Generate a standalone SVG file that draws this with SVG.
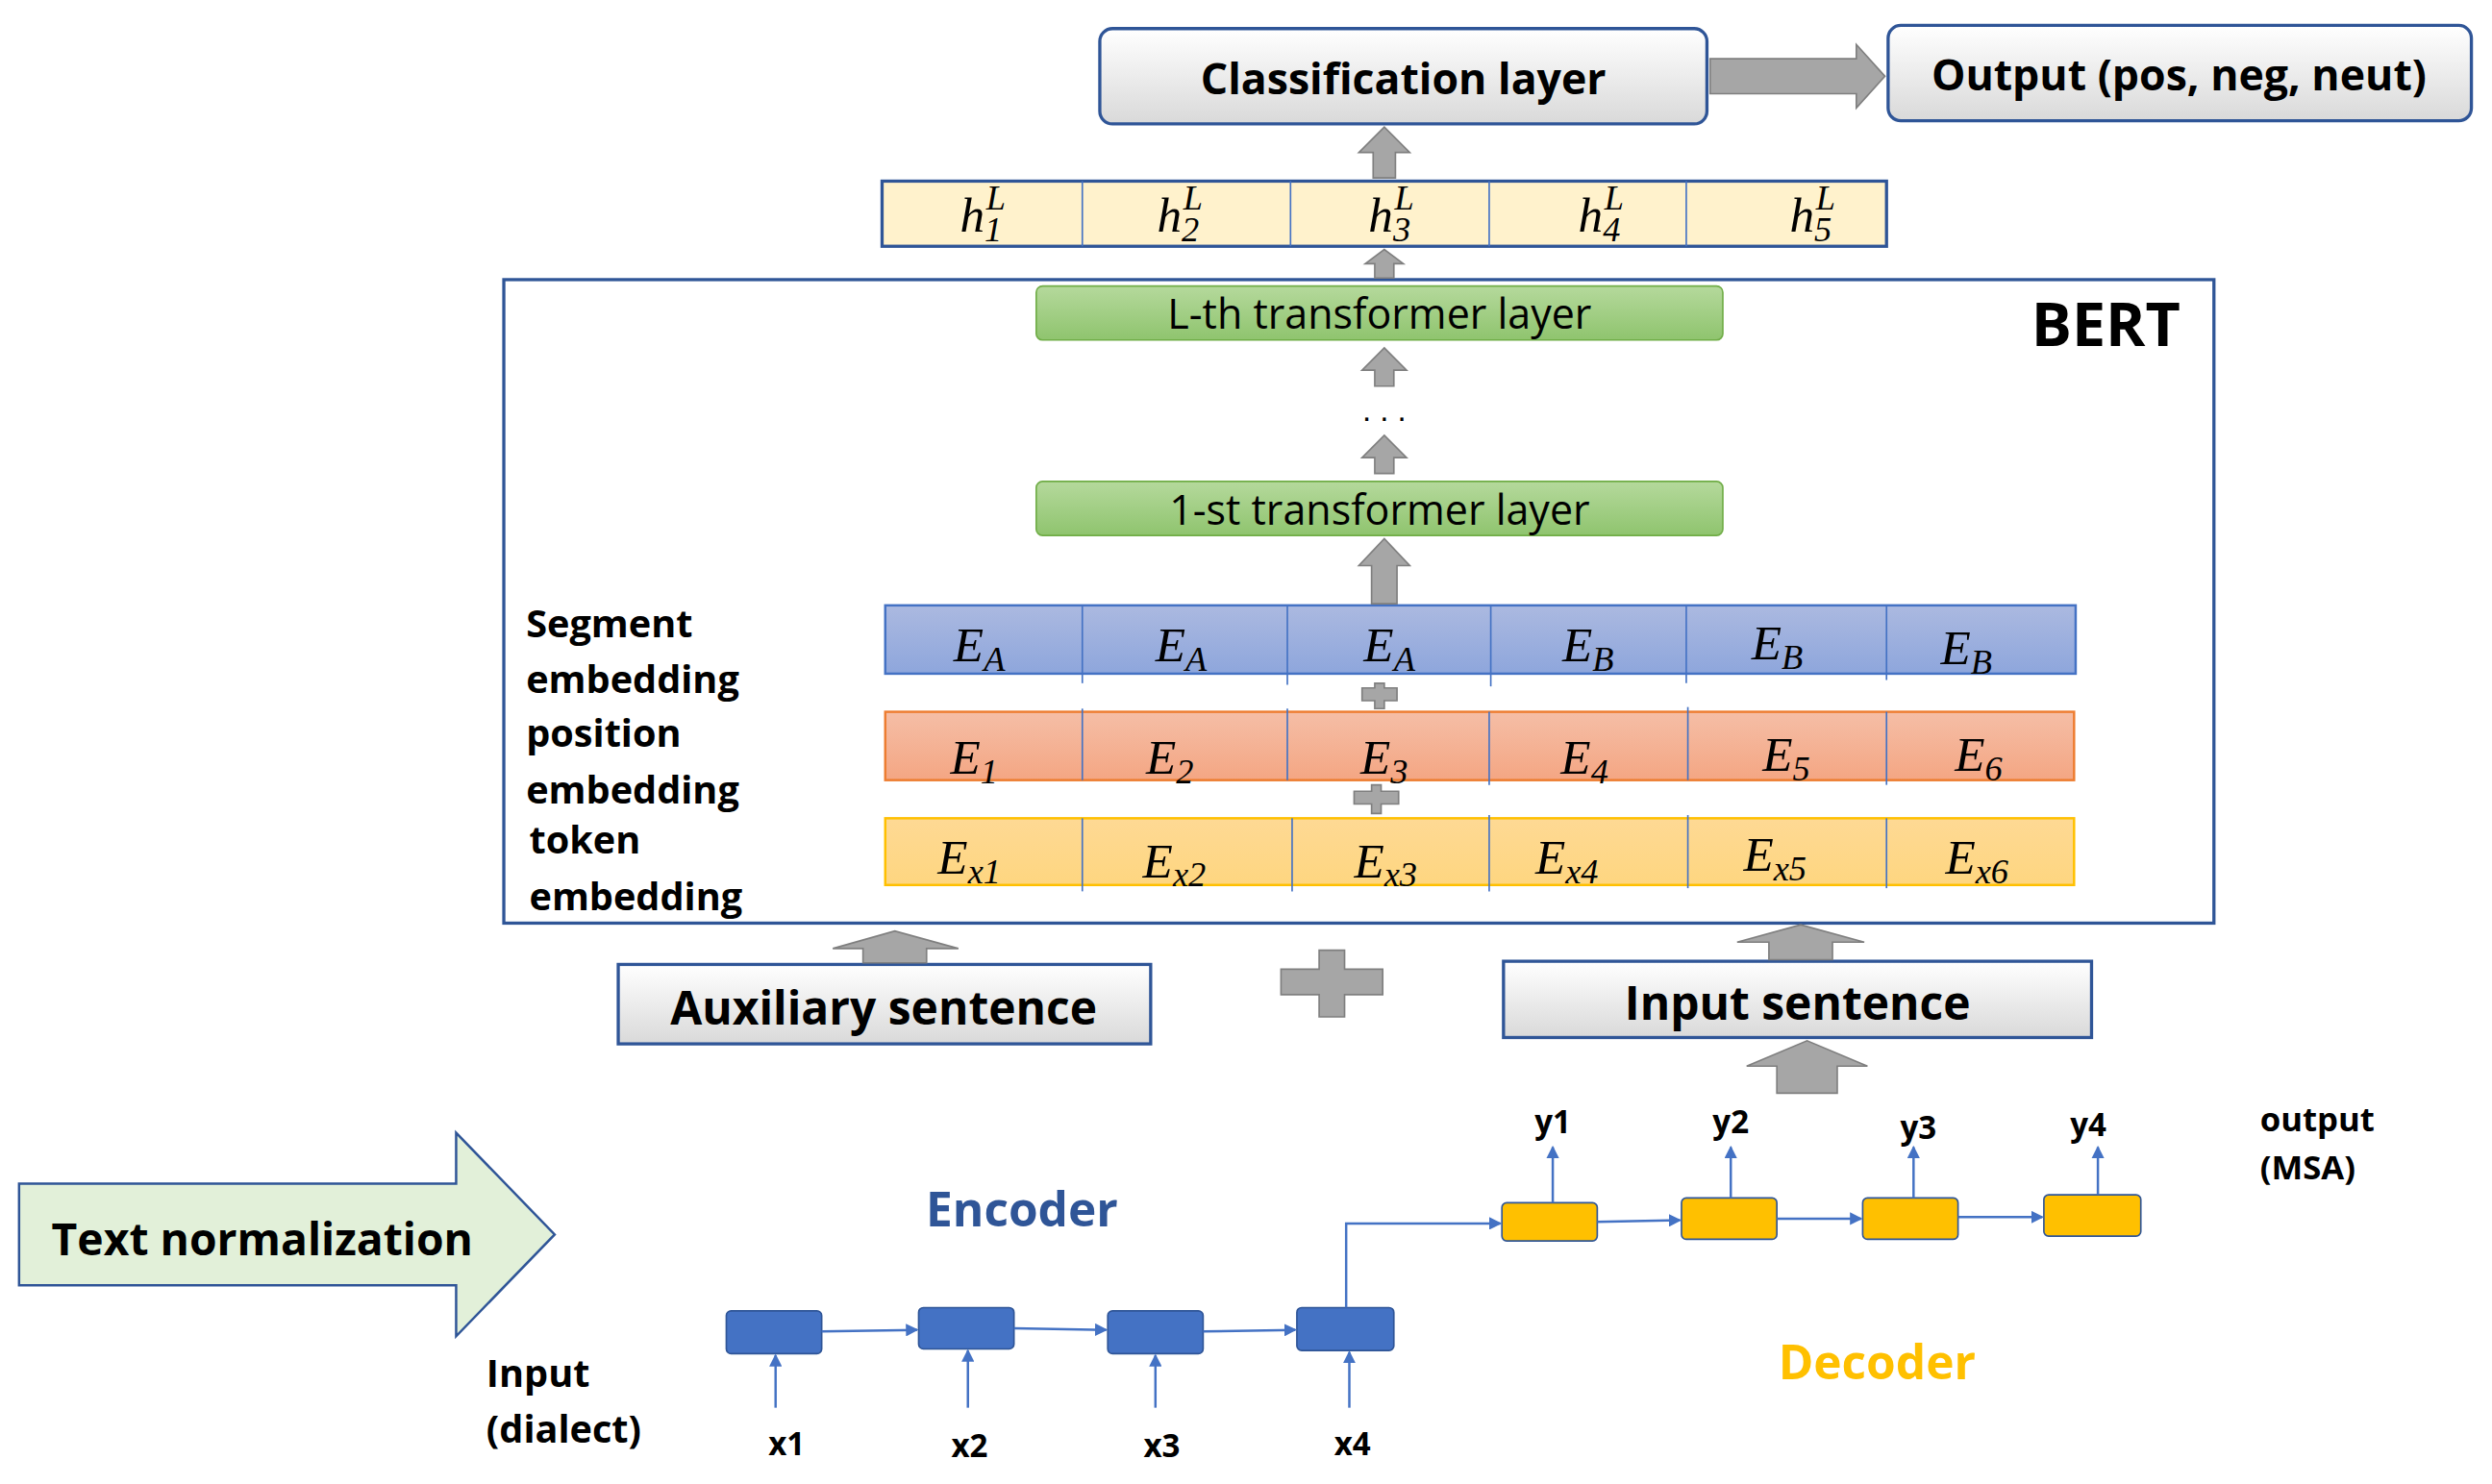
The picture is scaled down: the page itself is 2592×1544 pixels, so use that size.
<svg xmlns="http://www.w3.org/2000/svg" width="2592" height="1544" viewBox="0 0 2592 1544">
<defs>
<linearGradient id="gw" x1="0" y1="0" x2="0" y2="1"><stop offset="0" stop-color="#ffffff"/><stop offset="1" stop-color="#d9d9d9"/></linearGradient>
<linearGradient id="gg" x1="0" y1="0" x2="0" y2="1"><stop offset="0" stop-color="#b5d99c"/><stop offset="1" stop-color="#8fc46e"/></linearGradient>
<linearGradient id="gb" x1="0" y1="0" x2="0" y2="1"><stop offset="0" stop-color="#abb9e0"/><stop offset="1" stop-color="#8ea6dc"/></linearGradient>
<linearGradient id="go" x1="0" y1="0" x2="0" y2="1"><stop offset="0" stop-color="#f5bea6"/><stop offset="1" stop-color="#f4a683"/></linearGradient>
<linearGradient id="gy" x1="0" y1="0" x2="0" y2="1"><stop offset="0" stop-color="#fed994"/><stop offset="1" stop-color="#fed680"/></linearGradient>
<marker id="ah" markerWidth="8" markerHeight="8" refX="7" refY="4" orient="auto" markerUnits="userSpaceOnUse"><path d="M0,0 L8,4 L0,8 z" fill="#4472C4"/></marker>
</defs>
<style>
.t{font-family:"Open Sans","Liberation Sans",sans-serif;font-weight:bold;fill:#000}
.m{font-family:"Liberation Serif","DejaVu Serif",serif;font-style:italic;font-size:31px;fill:#000}
.ms{font-size:22px}
.box{fill:url(#gw);stroke:#2F5597;stroke-width:2}
.ga{fill:#A6A6A6;stroke:#7f7f7f;stroke-width:1}
.div{stroke:#4472C4;stroke-width:1}
.ln{stroke:#4472C4;stroke-width:1.5;fill:none;marker-end:url(#ah)}
.enc{fill:#4472C4;stroke:#2F5597;stroke-width:1}
.dec{fill:#FFC000;stroke:#2F5597;stroke-width:1}
</style>
<rect width="2592" height="1544" fill="#fff"/>
<g transform="scale(1.6531)">
<g id="classification"><rect class="box" x="692" y="18" width="382" height="60" rx="8"/><text class="t" x="883" y="59" font-size="27" text-anchor="middle">Classification layer</text></g>
<g id="output"><rect class="box" x="1188" y="16" width="367" height="60" rx="8"/><text class="t" x="1371" y="57" font-size="27" text-anchor="middle">Output (pos, neg, neut)</text></g>
<g id="hrow"><rect x="555" y="114" width="632" height="41" fill="#FFF2CC" stroke="#2F5597" stroke-width="2"/>
<g class="div"><line x1="681" y1="114" x2="681" y2="155"/><line x1="812" y1="114" x2="812" y2="155"/><line x1="937" y1="114" x2="937" y2="155"/><line x1="1061" y1="114" x2="1061" y2="155"/></g>
<g class="m"><text x="604" y="146">h<tspan class="ms" dy="6">1</tspan><tspan class="ms" dx="-10" dy="-20">L</tspan></text>
<text x="728" y="146">h<tspan class="ms" dy="6">2</tspan><tspan class="ms" dx="-10" dy="-20">L</tspan></text>
<text x="861" y="146">h<tspan class="ms" dy="6">3</tspan><tspan class="ms" dx="-10" dy="-20">L</tspan></text>
<text x="993" y="146">h<tspan class="ms" dy="6">4</tspan><tspan class="ms" dx="-10" dy="-20">L</tspan></text>
<text x="1126" y="146">h<tspan class="ms" dy="6">5</tspan><tspan class="ms" dx="-10" dy="-20">L</tspan></text></g></g>
<g id="bert"><rect x="317" y="176" width="1076" height="405" fill="none" stroke="#2F5597" stroke-width="2"/><text class="t" x="1325" y="218" font-size="38" text-anchor="middle">BERT</text></g>
<g id="lth"><rect x="652" y="180" width="432" height="34" rx="4" fill="url(#gg)" stroke="#70AD47"/><text x="868" y="207" font-family="Open Sans,Liberation Sans,sans-serif" font-size="26" text-anchor="middle">L-th transformer layer</text></g>
<g id="first"><rect x="652" y="303" width="432" height="34" rx="4" fill="url(#gg)" stroke="#70AD47"/><text x="868" y="330" font-family="Open Sans,Liberation Sans,sans-serif" font-size="26" text-anchor="middle">1-st transformer layer</text></g>
<text x="871" y="265" font-family="Liberation Sans,sans-serif" font-size="20" text-anchor="middle">. . .</text>
<g id="segment"><rect x="557" y="381" width="749" height="43" fill="url(#gb)" stroke="#4472C4" stroke-width="1.5"/>
<g class="div"><line x1="681" y1="381" x2="681" y2="430"/><line x1="810" y1="381" x2="810" y2="431"/><line x1="938" y1="381" x2="938" y2="432"/><line x1="1061" y1="381" x2="1061" y2="430"/><line x1="1187" y1="381" x2="1187" y2="428"/></g>
<g class="m"><text x="600" y="416">E<tspan class="ms" dy="6">A</tspan></text><text x="727" y="416">E<tspan class="ms" dy="6">A</tspan></text><text x="858" y="416">E<tspan class="ms" dy="6">A</tspan></text><text x="983" y="416">E<tspan class="ms" dy="6">B</tspan></text><text x="1102" y="415">E<tspan class="ms" dy="6">B</tspan></text><text x="1221" y="418">E<tspan class="ms" dy="6">B</tspan></text></g></g>
<g id="position"><rect x="557" y="448" width="748" height="43" fill="url(#go)" stroke="#ED7D31" stroke-width="1.5"/>
<g class="div"><line x1="681" y1="446" x2="681" y2="491"/><line x1="810" y1="446" x2="810" y2="491"/><line x1="937" y1="448" x2="937" y2="494"/><line x1="1062" y1="445" x2="1062" y2="491"/><line x1="1187" y1="448" x2="1187" y2="494"/></g>
<g class="m"><text x="598" y="487">E<tspan class="ms" dy="6">1</tspan></text><text x="721" y="487">E<tspan class="ms" dy="6">2</tspan></text><text x="856" y="487">E<tspan class="ms" dy="6">3</tspan></text><text x="982" y="487">E<tspan class="ms" dy="6">4</tspan></text><text x="1109" y="485">E<tspan class="ms" dy="6">5</tspan></text><text x="1230" y="485">E<tspan class="ms" dy="6">6</tspan></text></g></g>
<g id="token"><rect x="557" y="515" width="748" height="42" fill="url(#gy)" stroke="#FFC000" stroke-width="1.5"/>
<g class="div"><line x1="681" y1="515" x2="681" y2="561"/><line x1="813" y1="515" x2="813" y2="561"/><line x1="937" y1="513" x2="937" y2="561"/><line x1="1062" y1="513" x2="1062" y2="559"/><line x1="1187" y1="515" x2="1187" y2="559"/></g>
<g class="m"><text x="590" y="550">E<tspan class="ms" dy="6">x1</tspan></text><text x="719" y="552">E<tspan class="ms" dy="6">x2</tspan></text><text x="852" y="552">E<tspan class="ms" dy="6">x3</tspan></text><text x="966" y="550">E<tspan class="ms" dy="6">x4</tspan></text><text x="1097" y="548">E<tspan class="ms" dy="6">x5</tspan></text><text x="1224" y="550">E<tspan class="ms" dy="6">x6</tspan></text></g></g>
<g id="labels" class="t" font-size="24"><text x="331" y="401">Segment</text><text x="331" y="436">embedding</text><text x="331" y="470">position</text><text x="331" y="506">embedding</text><text x="333" y="537">token</text><text x="333" y="573">embedding</text></g>
<g id="auxiliary"><rect x="389" y="607" width="335" height="50" fill="url(#gw)" stroke="#2F5597" stroke-width="2"/><text class="t" x="556" y="645" font-size="29" text-anchor="middle">Auxiliary sentence</text></g>
<g id="input"><rect x="946" y="605" width="370" height="48" fill="url(#gw)" stroke="#2F5597" stroke-width="2"/><text class="t" x="1131" y="642" font-size="29" text-anchor="middle">Input sentence</text></g>
<g id="textnorm"><path d="M12,745 L287,745 L287,713 L349,777 L287,841 L287,809 L12,809 Z" fill="#E2F0D9" stroke="#2F5597" stroke-width="1.5"/><text class="t" x="165" y="790" font-size="28" text-anchor="middle">Text normalization</text></g>
<text class="t" x="643" y="772" font-size="30" text-anchor="middle" style="fill:#2F5597">Encoder</text>
<text class="t" x="1181" y="868" font-size="30" text-anchor="middle" style="fill:#FFC000">Decoder</text>
<g class="t" font-size="24"><text x="306" y="873">Input</text><text x="306" y="908">(dialect)</text></g>
<g class="t" font-size="21"><text x="1422" y="712">output</text><text x="1422" y="742">(MSA)</text></g>
<g id="enc1"><rect class="enc" x="457" y="825" width="60" height="27" rx="3"/></g>
<g id="enc2"><rect class="enc" x="578" y="823" width="60" height="26" rx="3"/></g>
<g id="enc3"><rect class="enc" x="697" y="825" width="60" height="27" rx="3"/></g>
<g id="enc4"><rect class="enc" x="816" y="823" width="61" height="27" rx="3"/></g>
<g id="dec1"><rect class="dec" x="945" y="757" width="60" height="24" rx="3"/></g>
<g id="dec2"><rect class="dec" x="1058" y="754" width="60" height="26" rx="3"/></g>
<g id="dec3"><rect class="dec" x="1172" y="754" width="60" height="26" rx="3"/></g>
<g id="dec4"><rect class="dec" x="1286" y="752" width="61" height="26" rx="3"/></g>
<g class="t" font-size="20" text-anchor="middle"><text x="495" y="916">x1</text><text x="610" y="917">x2</text><text x="731" y="917">x3</text><text x="851" y="916">x4</text><text x="977" y="713">y1</text><text x="1089" y="713">y2</text><text x="1207" y="717">y3</text><text x="1314" y="715">y4</text></g>
<g id="connectors">
<path class="ga" d="M1076,37 L1168,37 L1168,28 L1186,48 L1168,68 L1168,59 L1076,59 Z"/>
<path class="ga" d="M864,112 L864,96 L855,96 L871,80 L887,96 L878,96 L878,112 Z"/>
<path class="ga" d="M865,175 L865,166 L859,166 L871,157 L883,166 L877,166 L877,175 Z"/>
<path class="ga" d="M865,243 L865,233 L857,233 L871,219 L885,233 L877,233 L877,243 Z"/>
<path class="ga" d="M865,298 L865,288 L857,288 L871,274 L885,288 L877,288 L877,298 Z"/>
<path class="ga" d="M863,380 L863,356 L855,356 L871,339 L887,356 L879,356 L879,380 Z"/>
<path class="ga" d="M865,430 L865,433 L857,433 L857,441 L865,441 L865,446 L871,446 L871,441 L879,441 L879,433 L871,433 L871,430 Z"/>
<path class="ga" d="M863,494 L863,498 L852,498 L852,506 L863,506 L863,512 L869,512 L869,506 L880,506 L880,498 L869,498 L869,494 Z"/>
<path class="ga" d="M543,606 L543,597 L524,597 L563,586 L603,597 L583,597 L583,606 Z"/>
<path class="ga" d="M1113,604 L1113,593 L1093,593 L1133,582 L1173,593 L1153,593 L1153,604 Z"/>
<path class="ga" d="M1118,688 L1118,671 L1099,671 L1137,655 L1175,671 L1156,671 L1156,688 Z"/>
<path class="ga" d="M830,598 L846,598 L846,610 L870,610 L870,626 L846,626 L846,640 L830,640 L830,626 L806,626 L806,610 L830,610 Z"/>
<line class="ln" x1="517" y1="838" x2="577" y2="837"/>
<line class="ln" x1="638" y1="836" x2="696" y2="837"/>
<line class="ln" x1="757" y1="838" x2="815" y2="837"/>
<path class="ln" d="M847,823 L847,770 L944,770"/>
<line class="ln" x1="1005" y1="769" x2="1057" y2="768"/>
<line class="ln" x1="1118" y1="767" x2="1171" y2="767"/>
<line class="ln" x1="1232" y1="766" x2="1285" y2="766"/>
<line class="ln" x1="488" y1="886" x2="488" y2="853"/>
<line class="ln" x1="609" y1="886" x2="609" y2="850"/>
<line class="ln" x1="727" y1="886" x2="727" y2="853"/>
<line class="ln" x1="849" y1="886" x2="849" y2="851"/>
<line class="ln" x1="977" y1="757" x2="977" y2="722"/>
<line class="ln" x1="1089" y1="754" x2="1089" y2="722"/>
<line class="ln" x1="1204" y1="754" x2="1204" y2="722"/>
<line class="ln" x1="1320" y1="752" x2="1320" y2="722"/>
</g>
</g>
</svg>
